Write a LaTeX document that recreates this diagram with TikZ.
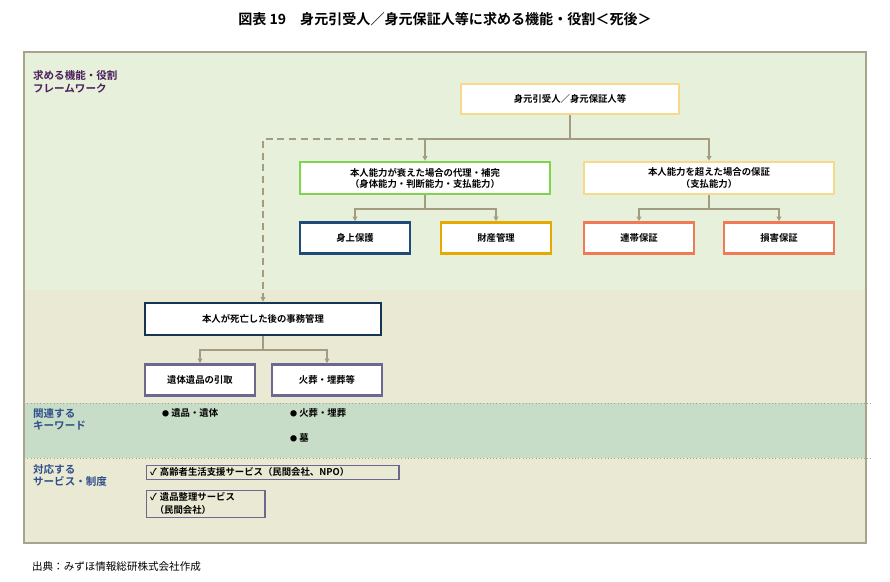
\documentclass[tikz,border=0pt]{standalone}
\usepackage{fontspec}
\setmainfont{Noto Sans CJK JP}[BoldFont={Noto Sans CJK JP Bold}]
\usepackage{tikz}
\usetikzlibrary{arrows.meta}
\definecolor{bggreen}{HTML}{E6F0DA}
\definecolor{bgbeige}{HTML}{EAEAD4}
\definecolor{bgkey}{HTML}{C7DDC7}
\definecolor{connc}{HTML}{A39C7E}
\definecolor{framec}{HTML}{A8A38C}
\definecolor{lblpurple}{HTML}{4A1E5C}
\definecolor{lblblue}{HTML}{2F4F8A}
\definecolor{bdorange}{HTML}{F8D88C}
\definecolor{bdgreen}{HTML}{7ED44C}
\definecolor{bdnavy}{HTML}{1F4A7A}
\definecolor{bdgold}{HTML}{E6A900}
\definecolor{bdred}{HTML}{F07A55}
\definecolor{bdslate}{HTML}{6C6892}
\tikzset{
  box/.style={draw, line width=2.2pt, fill=white, align=center, font=\fontsize{8}{9.5}\selectfont\bfseries, inner sep=1pt},
  small/.style={box, minimum width=3.3cm, minimum height=0.93cm},
  conn/.style={draw=connc, line width=1.3pt, -{Triangle[length=4pt,width=4pt]}},
  lbl/.style={anchor=north west, align=left, font=\fontsize{9}{11}\selectfont\bfseries},
  kw/.style={anchor=north west, font=\fontsize{8}{9.5}\selectfont\bfseries},
  svc/.style={draw=bdslate, line width=1pt, anchor=north west, align=left, font=\fontsize{8}{11}\selectfont\bfseries, inner xsep=3pt, inner ysep=2pt}
}
\begin{document}
\begin{tikzpicture}[x=0.03cm,y=-0.03cm]
  \useasboundingbox (0,0) rectangle (890,581);
  % title
  \node[font=\fontsize{12}{14}\selectfont\bfseries] (title) at (445,19) {図表 19　身元引受人／身元保証人等に求める機能・役割＜死後＞};
  % bands
  \fill[bggreen] (24,52) rectangle (866,290);
  \fill[bgbeige] (24,290) rectangle (866,403);
  \fill[bgkey]   (24,403) rectangle (866,458);
  \fill[bgbeige] (24,458) rectangle (866,543);
  \draw[framec, dotted, line width=0.8pt] (24,403) -- (872,403);
  \draw[framec, dotted, line width=0.8pt] (24,458) -- (872,458);
  \draw[framec, line width=1pt] (24,52) rectangle (866,543);
  % side labels
  \node[lbl, text=lblpurple] (lfw) at (29,66) {求める機能・役割\\フレームワーク};
  \node[lbl, text=lblblue] (lkw) at (29,404) {関連する\\キーワード};
  \node[lbl, text=lblblue] (lsv) at (29,460) {対応する\\サービス・制度};

  % boxes
  \node[box, draw=bdorange, minimum width=6.54cm, minimum height=0.9cm] (top) at (570,99) {身元引受人／身元保証人等};
  \node[box, draw=bdgreen, minimum width=7.5cm, minimum height=0.96cm] (sup) at (425,178) {本人能力が衰えた場合の代理・補完\\（身体能力・判断能力・支払能力）};
  \node[box, draw=bdorange, minimum width=7.5cm, minimum height=0.96cm] (grt) at (709,178) {本人能力を超えた場合の保証\\（支払能力）};
  \node[small, draw=bdnavy] (care) at (355,238) {身上保護};
  \node[small, draw=bdgold] (prop) at (496,238) {財産管理};
  \node[small, draw=bdred] (joint) at (639,238) {連帯保証};
  \node[small, draw=bdred] (dmg) at (779,238) {損害保証};
  \node[box, draw=bdnavy!70!black, minimum width=7.08cm, minimum height=0.96cm] (post) at (263,319) {本人が死亡した後の事務管理};
  \node[small, draw=bdslate] (body) at (200,380) {遺体遺品の引取};
  \node[small, draw=bdslate] (fun) at (327,380) {火葬・埋葬等};

  % connectors
  \coordinate (jtop) at (570,139);
  \coordinate (jsup) at (425,209);
  \coordinate (jgrt) at (709,209);
  \coordinate (jpost) at (263,350);
  \draw[conn, -] (top) -- (jtop);
  \draw[conn] (jtop) -| (sup.north);
  \draw[conn] (jtop) -| (grt.north);
  \draw[conn, dash pattern=on 6pt off 4pt] (sup.north |- jtop) -| (post.north);
  \draw[conn, -] (sup) -- (jsup);
  \draw[conn] (jsup) -| (care.north);
  \draw[conn] (jsup) -| (prop.north);
  \draw[conn, -] (grt) -- (jgrt);
  \draw[conn] (jgrt) -| (joint.north);
  \draw[conn] (jgrt) -| (dmg.north);
  \draw[conn, -] (post) -- (jpost);
  \draw[conn] (jpost) -| (body.north);
  \draw[conn] (jpost) -| (fun.north);

  % keywords
  \node[kw] (kw1) at (158,404) {{\fontsize{6}{6}\selectfont●}\ 遺品・遺体};
  \node[kw] (kw2) at (286,404) {{\fontsize{6}{6}\selectfont●}\ 火葬・埋葬};
  \node[kw] (kw3) at (286,429) {{\fontsize{6}{6}\selectfont●}\ 墓};

  % services
  \node[svc, text width=7.36cm] (sv1) at (146,465) {✓ 高齢者生活支援サービス（民間会社、NPO）};
  \node[svc, text width=3.34cm] (sv2) at (146,490) {✓ 遺品整理サービス\\\hspace{0.5em}（民間会社）};

  % source
  \node[anchor=west, font=\fontsize{9}{11}\selectfont] (src) at (28,567) {出典：みずほ情報総研株式会社作成};
\end{tikzpicture}
\end{document}
